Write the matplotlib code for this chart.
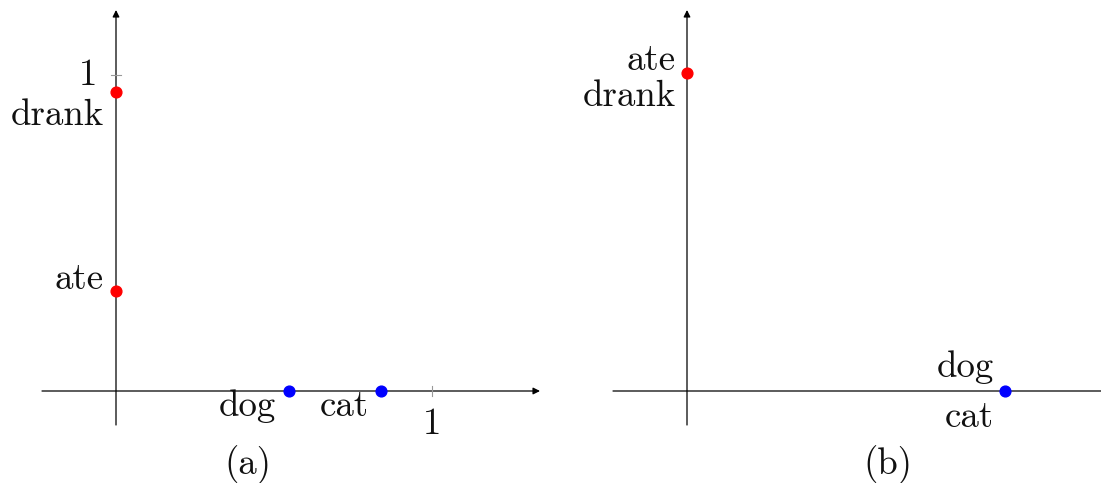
import matplotlib.pyplot as plt

plt.rcParams['font.family'] = 'cmr10'
plt.rcParams['mathtext.fontset'] = 'cm'
plt.rcParams['axes.formatter.use_mathtext'] = True

# panel (a): words placed on the two axes
nouns_a = ['dog', 'cat']
nouns_a_x = [0.547, 0.839]
verbs_a = ['drank', 'ate']
verbs_a_y = [0.946, 0.315]

# panel (b): everything collapses to 1
nouns_b = ['dog', 'cat']
nouns_b_x = [1.0, 1.0]
verbs_b = ['ate', 'drank']
verbs_b_y = [1.0, 1.0]

FS = 26.5
RED = '#ff0000'
BLUE = '#0000ff'

fig = plt.figure(figsize=(11.01, 4.83), dpi=100)
W, H = 1101, 483


def make_axes(left_px, right_px, origin_px, unit):
    top_px, bottom_px, origin_y = 10, 425, 391
    ax = fig.add_axes([left_px / W, (H - bottom_px) / H,
                       (right_px - left_px) / W, (bottom_px - top_px) / H])
    ax.set_xlim((left_px - origin_px) / unit, (right_px - origin_px) / unit)
    ax.set_ylim((origin_y - bottom_px) / unit, (origin_y - top_px) / unit)
    ax.axis('off')
    return ax


def draw_axes(ax, x_arrow=True):
    x0, x1 = ax.get_xlim()
    y0, y1 = ax.get_ylim()
    style = '-|>' if x_arrow else '-'
    ax.annotate('', xy=(x1, 0), xytext=(x0, 0), annotation_clip=False,
                arrowprops=dict(arrowstyle=style, color='black', lw=0.9,
                                mutation_scale=10, shrinkA=0, shrinkB=0), zorder=1)
    ax.annotate('', xy=(0, y1), xytext=(0, y0), annotation_clip=False,
                arrowprops=dict(arrowstyle='-|>', color='black', lw=0.9,
                                mutation_scale=10, shrinkA=0, shrinkB=0), zorder=1)


def label(ax, txt, xy, dx, dy):
    ax.annotate(txt, xy=xy, xytext=(dx, dy), textcoords='offset points',
                ha='right', va='center', fontsize=FS, color='#111111')


# ---- (a)
ax_a = make_axes(42, 540, 116, 316)
draw_axes(ax_a)
# small grey ticks at 1
ax_a.plot([1, 1], [-0.015, 0.015], color='#999999', lw=0.8, zorder=1)
ax_a.plot([-0.015, 0.015], [1, 1], color='#999999', lw=0.8, zorder=1)
ax_a.annotate('1', xy=(1, 0), xytext=(0, -24), textcoords='offset points',
              ha='center', va='center', fontsize=FS, color='#111111')
ax_a.annotate('1', xy=(0, 1), xytext=(-20, 0), textcoords='offset points',
              ha='center', va='center', fontsize=FS, color='#111111')

ax_a.scatter(nouns_a_x, [0] * len(nouns_a_x), s=60, color=BLUE, zorder=3)
ax_a.scatter([0] * len(verbs_a_y), verbs_a_y, s=60, color=RED, zorder=3)
for w, x in zip(nouns_a, nouns_a_x):
    label(ax_a, w, (x, 0), -9, -11)
label(ax_a, verbs_a[0], (0, verbs_a_y[0]), -9, -17)
label(ax_a, verbs_a[1], (0, verbs_a_y[1]), -9, 9)

# ---- (b)
ax_b = make_axes(613, 1101, 687, 318)
draw_axes(ax_b, x_arrow=False)
ax_b.scatter(nouns_b_x[:1], [0], s=60, color=BLUE, zorder=3)
ax_b.scatter([0], verbs_b_y[:1], s=60, color=RED, zorder=3)
label(ax_b, nouns_b[0], (nouns_b_x[0], 0), -8, 17)
label(ax_b, nouns_b[1], (nouns_b_x[1], 0), -8, -19)
label(ax_b, verbs_b[0], (0, verbs_b_y[0]), -8, 9)
label(ax_b, verbs_b[1], (0, verbs_b_y[1]), -8, -17)

fig.text(248 / W, 1 - 465 / H, '(a)', ha='center', va='center', fontsize=FS, color='#111111')
fig.text(888 / W, 1 - 465 / H, '(b)', ha='center', va='center', fontsize=FS, color='#111111')

fig.savefig('out.png', dpi=100)
